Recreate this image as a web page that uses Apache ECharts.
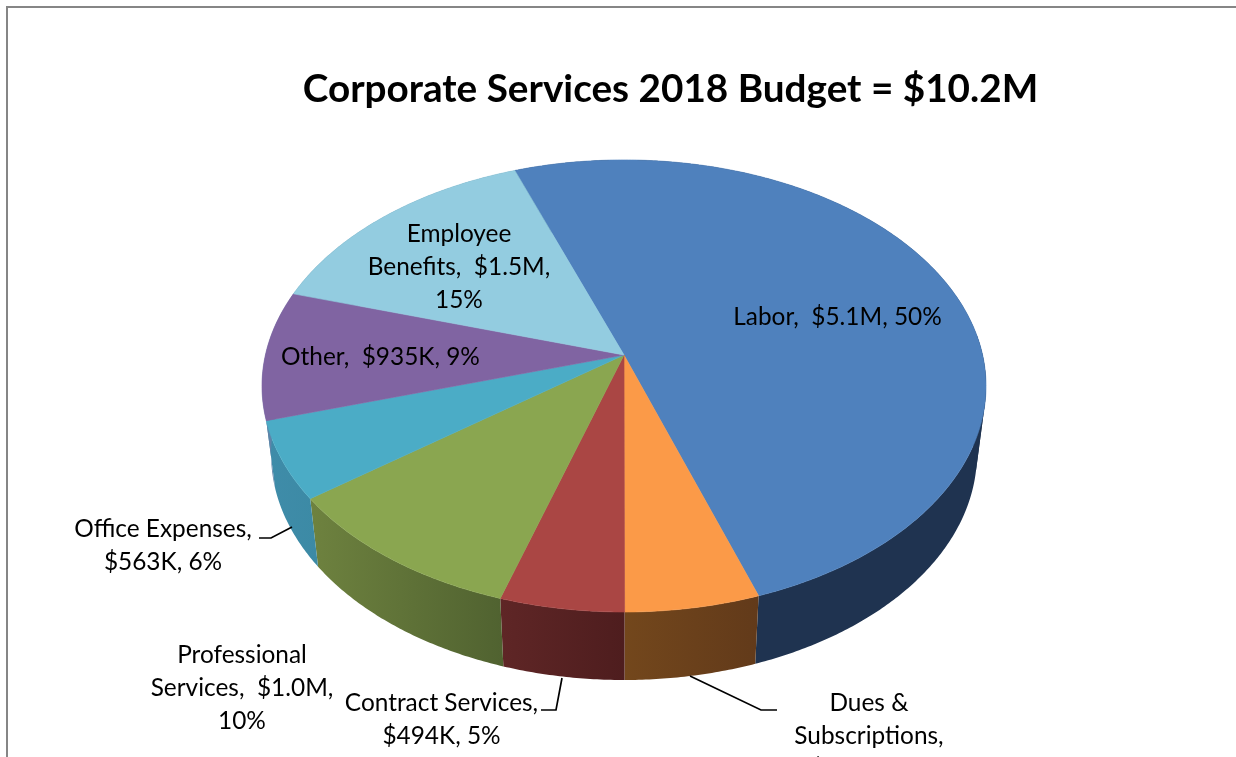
<!DOCTYPE html>
<html>
<head>
<meta charset="utf-8">
<style>html,body{margin:0;padding:0;background:#fff;overflow:hidden}#c{width:1236px;height:757px}</style>
<script src="https://cdn.jsdelivr.net/npm/echarts@6/dist/echarts.min.js"></script>
</head>
<body>
<div id="c"></div>
<script>
const chartTitle = 'Corporate Services 2018 Budget = $10.2M';
const categories = ['Labor', 'Dues & Subscriptions', 'Contract Services', 'Professional Services', 'Office Expenses', 'Other', 'Employee Benefits'];
const budgetK = [5100, 535, 494, 1015, 563, 935, 1500];
const labelTexts = [
  'Labor,  $5.1M, 50%',
  'Dues &\nSubscriptions,\n$535K, 5%',
  'Contract Services,\n$494K, 5%',
  'Professional\nServices,  $1.0M,\n10%',
  'Office Expenses,\n$563K, 6%',
  'Other,  $935K, 9%',
  'Employee\nBenefits,  $1.5M,\n15%'
];
const topColors = ['#4f81bd', '#fb9a48', '#aa4644', '#8aa650', '#4bacc6', '#8064a2', '#93cce0'];
const sideColors = [
  ['#1f3350', '#1f3350'], ['#73471c', '#623a1a'], ['#5f2626', '#4e1d1e'], ['#6e823f', '#506230'],
  ['#3f8ca9', '#3c8aa5'], ['#5f83a8', '#5f83a8'], ['#588090', '#588090']
];
const labelCenters = [[837.5, 317], [869, 736], [441.5, 719.5], [242, 688], [163, 545.5], [380.5, 357], [459, 267.5]];
const leaderPaths = [null, [[690, 676], [761, 710], [777, 710]], [[562, 678], [556, 710], [541, 710]], null, [[292, 527], [271, 538], [259, 538]], null, null];

// Perspective model of the pie's top face
const cx = 624, apexY = 355, radius = 358.6, depthK = 221.8, tilt = 0.137;
const wallDrop = 68, wallScale = 0.975, startDeg = -110.1;
const textFont = 'Lato, Carlito, sans-serif';

const total = budgetK.reduce((a, b) => a + b, 0);
const bounds = [];
budgetK.reduce((acc, v) => { bounds.push([acc, acc + v / total * 360]); return acc + v / total * 360; }, startDeg);

function topPoint(deg) {
  const t = deg * Math.PI / 180, s = Math.sin(t), c = Math.cos(t), w = 1 - tilt * s;
  return [cx + radius * c / w, apexY + depthK * s / w];
}
function bottomPoint(deg) {
  const p = topPoint(deg);
  return [cx + wallScale * (p[0] - cx), p[1] + wallDrop];
}
function arc(fn, a, b) {
  const pts = [], n = Math.max(2, Math.ceil(Math.abs(b - a) * 2));
  for (let i = 0; i <= n; i++) pts.push(fn(a + (b - a) * i / n));
  return pts;
}

const option = {
  animation: false,
  backgroundColor: '#ffffff',
  title: {
    text: chartTitle, left: 665.5, top: 85, textAlign: 'center', textVerticalAlign: 'middle',
    textStyle: { fontFamily: textFont, fontWeight: 'bold', fontSize: 38.7, color: '#000' }
  },
  graphic: [{
    type: 'polyline', silent: true,
    shape: { points: [[7, 757], [7, 7], [1236, 7]] },
    style: { stroke: '#868686', lineWidth: 2, fill: null }
  }],
  series: [
    {
      type: 'custom', coordinateSystem: 'none', silent: true, z: 1, name: 'walls',
      data: budgetK,
      renderItem(params) {
        const i = params.dataIndex, [a, b] = bounds[i];
        const pts = arc(topPoint, a, b).concat(arc(bottomPoint, b, a));
        const children = [{
          type: 'polygon', shape: { points: pts },
          style: {
            fill: { type: 'linear', x: 0, y: 0, x2: 1, y2: 0, colorStops: [
              { offset: 0, color: sideColors[i][0] }, { offset: 1, color: sideColors[i][1] }] }
          }
        }];
        // The first slice's wall also spans the right-hand silhouette between the two rims
        if (i === 0) {
          const t = arc(topPoint, -5, 12), u = arc(bottomPoint, -5, 12);
          children.push({
            type: 'polygon', shape: { points: t.concat(u.slice().reverse()) },
            style: { fill: sideColors[i][0] }
          });
          children.push({
            type: 'polygon', shape: { points: [t[0], t[t.length - 1], u[u.length - 1], u[0]] },
            style: { fill: sideColors[i][0] }
          });
        }
        return { type: 'group', children };
      }
    },
    {
      type: 'custom', coordinateSystem: 'none', silent: true, z: 2, name: 'top',
      data: budgetK,
      renderItem(params) {
        const i = params.dataIndex, [a, b] = bounds[i];
        return {
          type: 'polygon', shape: { points: [[cx, apexY]].concat(arc(topPoint, a, b)) },
          style: { fill: topColors[i], stroke: topColors[i], lineWidth: 0.6 }
        };
      }
    },
    {
      type: 'custom', coordinateSystem: 'none', silent: true, z: 3, name: 'labels',
      data: categories.map((c, i) => ({ name: c, value: budgetK[i] })),
      renderItem(params) {
        const i = params.dataIndex, children = [{
          type: 'text',
          style: {
            text: labelTexts[i], x: labelCenters[i][0], y: labelCenters[i][1],
            align: 'center', verticalAlign: 'middle', lineHeight: 33,
            font: '24.4px ' + textFont, fill: '#000'
          }
        }];
        if (leaderPaths[i]) children.push({
          type: 'polyline', shape: { points: leaderPaths[i] },
          style: { stroke: '#000', lineWidth: 1.7, fill: null }
        });
        return { type: 'group', children };
      }
    }
  ]
};
echarts.init(document.getElementById('c'), null, { renderer: 'canvas', width: 1236, height: 757 }).setOption(option);
</script>
</body>
</html>
